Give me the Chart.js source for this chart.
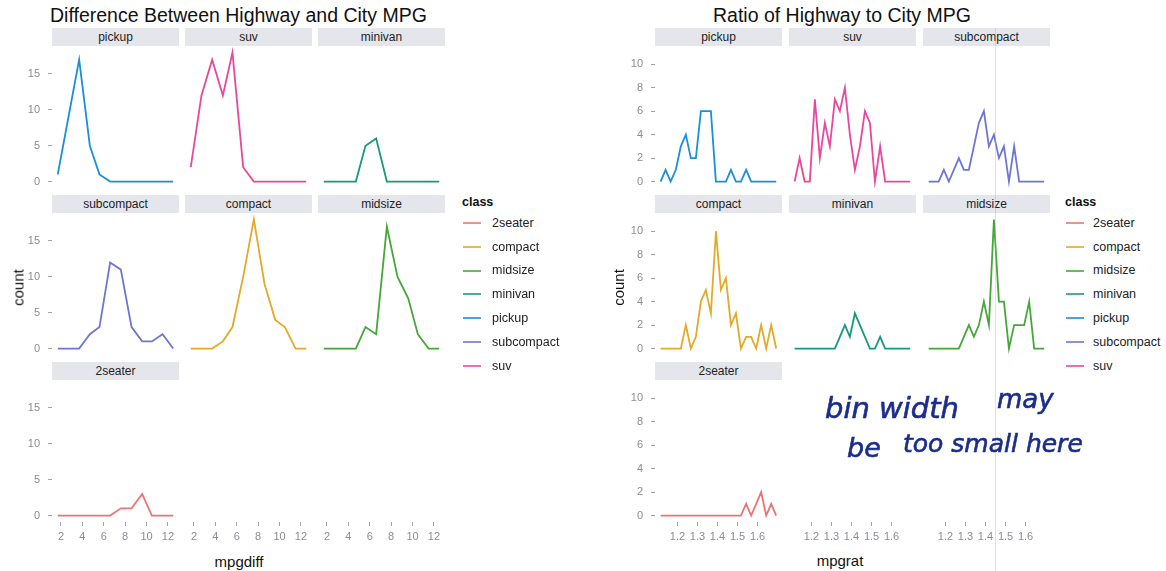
<!DOCTYPE html>
<html>
<head>
<meta charset="utf-8">
<script src="https://cdn.jsdelivr.net/npm/chart.js@4.4.1/dist/chart.umd.min.js"></script>
<style>
body { margin: 0; background: #fff; width: 1166px; height: 571px; position: relative; overflow: hidden; font-family: "Liberation Sans", Arial, sans-serif; }
.txt { position: absolute; white-space: nowrap; }
.strip { position: absolute; background: #e4e6ec; color: #222; font-size: 12px; text-align: center; line-height: 18px; height: 18px; }
.hand { position: absolute; white-space: nowrap; font-family: "DejaVu Sans", sans-serif; font-style: italic; color: #1a2d8c; line-height: 26px; -webkit-text-stroke: 0.6px #1a2d8c; }
canvas { position: absolute; }
</style>
</head>
<body>
<script>
// classes + colours (legend order)
const classes = ['2seater', 'compact', 'midsize', 'minivan', 'pickup', 'subcompact', 'suv'];
const classColors = ['#ea7674', '#e2a92a', '#45a63a', '#18987f', '#1b8fd8', '#6e76d2', '#e8489c'];

// mpgdiff = hwy - cty, bin centres and counts
const mpgdiffBins = [1.7, 2.7, 3.7, 4.7, 5.6, 6.6, 7.6, 8.6, 9.6, 10.5, 11.5, 12.5];
const diff2seater    = [0, 0, 0, 0, 0, 0, 1, 1, 3, 0, 0, 0];
const diffCompact    = [0, 0, 0, 1, 3, 10, 18, 9, 4, 3, 0, 0];
const diffMidsize    = [0, 0, 0, 0, 3, 2, 17, 10, 7, 2, 0, 0];
const diffMinivan    = [0, 0, 0, 0, 5, 6, 0, 0, 0, 0, 0, 0];
const diffPickup     = [1, 9, 17, 5, 1, 0, 0, 0, 0, 0, 0, 0];
const diffSubcompact = [0, 0, 0, 2, 3, 12, 11, 3, 1, 1, 2, 0];
const diffSuv        = [2, 12, 17, 12, 18, 2, 0, 0, 0, 0, 0, 0];
const diffXTicks = [2, 4, 6, 8, 10, 12];
const diffYTicks = [0, 5, 10, 15];

// mpgrat = hwy / cty
const mpgratBins = [1.116, 1.141, 1.166, 1.192, 1.217, 1.242, 1.267, 1.292, 1.317, 1.342, 1.367, 1.392,
                    1.417, 1.442, 1.467, 1.492, 1.517, 1.543, 1.568, 1.593, 1.618, 1.643, 1.668, 1.693];
const rat2seater    = [0, 0, 0, 0, 0, 0, 0, 0, 0, 0, 0, 0, 0, 0, 0, 0, 0, 1, 0, 1, 2, 0, 1, 0];
const ratCompact    = [0, 0, 0, 0, 0, 2, 0, 1, 4, 5, 3, 10, 5, 6, 2, 3, 0, 1, 1, 0, 2, 0, 2, 0];
const ratMidsize    = [0, 0, 0, 0, 0, 0, 0, 1, 2, 1, 2, 4, 2, 11, 4, 4, 0, 2, 2, 2, 4, 0, 0, 0];
const ratMinivan    = [0, 0, 0, 0, 0, 0, 0, 0, 0, 1, 2, 1, 3, 2, 1, 0, 0, 1, 0, 0, 0, 0, 0, 0];
const ratPickup     = [0, 1, 0, 1, 3, 4, 2, 2, 6, 6, 6, 0, 0, 0, 1, 0, 0, 1, 0, 0, 0, 0, 0, 0];
const ratSubcompact = [0, 0, 0, 1, 0, 1, 2, 1, 1, 3, 5, 6, 3, 4, 2, 3, 0, 3, 0, 0, 0, 0, 0, 0];
const ratSuv        = [0, 2, 0, 0, 7, 2, 5, 3, 7, 6, 8, 4, 1, 3, 6, 5, 0, 3, 0, 0, 0, 0, 0, 0];
const ratXTicks = [1.2, 1.3, 1.4, 1.5, 1.6];
const ratYTicks = [0, 2, 4, 6, 8, 10];

Chart.defaults.font.family = '"Liberation Sans", Arial, sans-serif';

const PW = 127, PH = 142, STRIP = 18;
const rowTop = [46, 213, 380];
const AXIS_W = 52, AXIS_H = 30;

const plots = {
  diff: {
    cols: [52, 185, 318], bins: mpgdiffBins, xMin: 1.16, xMax: 13.04, yMin: -0.9, yMax: 18.9,
    xTicks: diffXTicks, yTicks: diffYTicks, fmt: v => String(v),
    counts: { '2seater': diff2seater, compact: diffCompact, midsize: diffMidsize, minivan: diffMinivan,
              pickup: diffPickup, subcompact: diffSubcompact, suv: diffSuv },
    layout: [['pickup', 'suv', 'minivan'], ['subcompact', 'compact', 'midsize'], ['2seater']]
  },
  ratio: {
    cols: [655, 789, 923], bins: mpgratBins, xMin: 1.088, xMax: 1.722, yMin: -0.55, yMax: 11.55,
    xTicks: ratXTicks, yTicks: ratYTicks, fmt: v => v.toFixed(1),
    counts: { '2seater': rat2seater, compact: ratCompact, midsize: ratMidsize, minivan: ratMinivan,
              pickup: ratPickup, subcompact: ratSubcompact, suv: ratSuv },
    layout: [['pickup', 'suv', 'subcompact'], ['compact', 'minivan', 'midsize'], ['2seater']]
  }
};

function text(str, x, y, size, css, align) {
  const d = document.createElement('div');
  d.className = 'txt';
  d.textContent = str;
  d.style.fontSize = size + 'px';
  d.style.lineHeight = size + 'px';
  d.style.top = (y - size / 2) + 'px';
  if (align === 'center') { d.style.left = x + 'px'; d.style.transform = 'translateX(-50%)'; }
  else d.style.left = x + 'px';
  if (css) d.style.cssText += css;
  document.body.appendChild(d);
  return d;
}

function makePanel(P, col, row, name, showY, showX) {
  const left = P.cols[col], top = rowTop[row];
  const padL = showY ? AXIS_W : 0, padB = showX ? AXIS_H : 0;
  const cv = document.createElement('canvas');
  cv.width = PW + padL;
  cv.height = PH + padB;
  cv.style.left = (left - padL) + 'px';
  cv.style.top = top + 'px';
  document.body.appendChild(cv);

  const datasets = [];
  if (name) {
    const counts = P.counts[name];
    datasets.push({
      data: P.bins.map((x, i) => ({ x: x, y: counts[i] })),
      borderColor: classColors[classes.indexOf(name)],
      borderWidth: 1.8,
      pointRadius: 0,
      tension: 0,
      fill: false
    });
    const s = document.createElement('div');
    s.className = 'strip';
    s.textContent = name;
    s.style.left = left + 'px';
    s.style.top = (top - STRIP) + 'px';
    s.style.width = PW + 'px';
    document.body.appendChild(s);
  }

  new Chart(cv, {
    type: 'line',
    data: { datasets: datasets },
    options: {
      responsive: false,
      animation: false,
      devicePixelRatio: 1,
      layout: { padding: 0 },
      plugins: { legend: { display: false }, tooltip: { enabled: false } },
      scales: {
        x: {
          type: 'linear', min: P.xMin, max: P.xMax, display: showX,
          border: { display: false },
          grid: { drawOnChartArea: false, tickLength: 4, color: '#a0a3ab' },
          ticks: { autoSkip: false, maxRotation: 0, padding: 4, color: '#8a8d96', font: { size: 11 }, callback: P.fmt },
          afterBuildTicks: s => { s.ticks = P.xTicks.map(v => ({ value: v })); },
          afterFit: s => { if (showX) s.height = padB; s.paddingLeft = 0; s.paddingRight = 0; }
        },
        y: {
          type: 'linear', min: P.yMin, max: P.yMax, display: showY,
          border: { display: false },
          grid: { drawOnChartArea: false, tickLength: 4, color: '#a0a3ab' },
          ticks: { padding: 8, color: '#8a8d96', font: { size: 11 } },
          afterBuildTicks: s => { s.ticks = P.yTicks.map(v => ({ value: v })); },
          afterFit: s => { if (showY) s.width = padL; s.paddingTop = 0; s.paddingBottom = 0; }
        }
      }
    }
  });
}

function makePlot(P) {
  P.layout.forEach((names, row) => {
    names.forEach((name, col) => {
      makePanel(P, col, row, name, col === 0, row === 2);
    });
  });
  // bottom axes for the columns whose last row is empty
  for (let col = P.layout[2].length; col < 3; col++) makePanel(P, col, 2, null, false, true);
}

function makeLegend(xLine, xLabel) {
  text('class', xLine - 1, 202, 12.5, 'font-weight:bold;color:#111;');
  classes.forEach((c, i) => {
    const y = 223 + i * 23.8;
    const ln = document.createElement('div');
    ln.style.cssText = `position:absolute;left:${xLine}px;top:${y - 1}px;width:18px;height:2px;background:${classColors[i]};opacity:0.8;`;
    document.body.appendChild(ln);
    text(c, xLabel, y, 12.5, 'color:#222;');
  });
}

makePlot(plots.diff);
makePlot(plots.ratio);

text('Difference Between Highway and City MPG', 50, 15.5, 19.5, 'color:#111;');
text('Ratio of Highway to City MPG', 713, 15.5, 19.5, 'color:#111;');
text('mpgdiff', 239, 561, 15, 'color:#111;', 'center');
text('mpgrat', 840, 560, 15, 'color:#111;', 'center');
text('count', 18, 287, 15, 'color:#111;transform:translate(-50%,0) rotate(-90deg);');
text('count', 618, 287, 15, 'color:#111;transform:translate(-50%,0) rotate(-90deg);');

makeLegend(463, 492);
makeLegend(1066, 1093);

// faint scan fold line
const fold = document.createElement('div');
fold.style.cssText = 'position:absolute;left:995px;top:28px;width:1px;height:543px;background:rgba(160,170,205,0.35);';
document.body.appendChild(fold);

// handwritten note
[['bin width', 825, 421, 29], ['may', 997, 409, 26], ['be', 847, 459, 27], ['too small here', 903, 453, 25]]
  .forEach(([t, x, base, size]) => {
    const d = document.createElement('div');
    d.className = 'hand';
    d.textContent = t;
    d.style.fontSize = size + 'px';
    d.style.left = x + 'px';
    d.style.top = (base - 0.85 * size - 1) + 'px';
    document.body.appendChild(d);
  });
</script>
</body>
</html>
